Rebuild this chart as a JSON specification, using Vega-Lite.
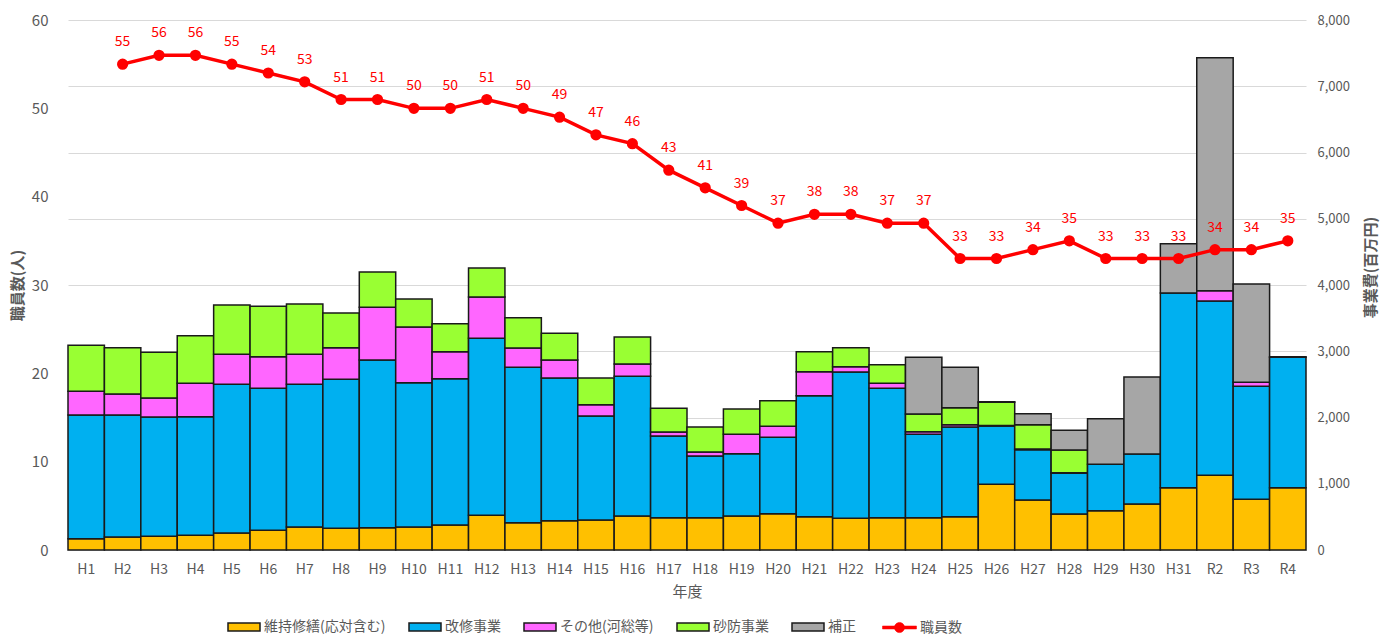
{
  "$schema": "https://vega.github.io/schema/vega-lite/v6.json",
  "width": 1238,
  "height": 530,
  "autosize": {"type": "none"},
  "padding": {"left": 68, "top": 20, "right": 79, "bottom": 85},
  "background": "white",
  "config": {"font": "Noto Sans CJK JP", "view": {"stroke": null}},
  "datasets": {
    "bars": [
      {"y":"H1","c":"維持修繕(応対含む)","o":1,"v":171},{"y":"H1","c":"改修事業","o":2,"v":1867},{"y":"H1","c":"その他(河総等)","o":3,"v":358},{"y":"H1","c":"砂防事業","o":4,"v":694},
      {"y":"H2","c":"維持修繕(応対含む)","o":1,"v":196},{"y":"H2","c":"改修事業","o":2,"v":1842},{"y":"H2","c":"その他(河総等)","o":3,"v":317},{"y":"H2","c":"砂防事業","o":4,"v":699},
      {"y":"H3","c":"維持修繕(応対含む)","o":1,"v":206},{"y":"H3","c":"改修事業","o":2,"v":1802},{"y":"H3","c":"その他(河総等)","o":3,"v":286},{"y":"H3","c":"砂防事業","o":4,"v":690},
      {"y":"H4","c":"維持修繕(応対含む)","o":1,"v":221},{"y":"H4","c":"改修事業","o":2,"v":1791},{"y":"H4","c":"その他(河総等)","o":3,"v":504},{"y":"H4","c":"砂防事業","o":4,"v":719},
      {"y":"H5","c":"維持修繕(応対含む)","o":1,"v":257},{"y":"H5","c":"改修事業","o":2,"v":2244},{"y":"H5","c":"その他(河総等)","o":3,"v":453},{"y":"H5","c":"砂防事業","o":4,"v":744},
      {"y":"H6","c":"維持修繕(応対含む)","o":1,"v":297},{"y":"H6","c":"改修事業","o":2,"v":2143},{"y":"H6","c":"その他(河総等)","o":3,"v":478},{"y":"H6","c":"砂防事業","o":4,"v":760},
      {"y":"H7","c":"維持修繕(応対含む)","o":1,"v":347},{"y":"H7","c":"改修事業","o":2,"v":2154},{"y":"H7","c":"その他(河総等)","o":3,"v":453},{"y":"H7","c":"砂防事業","o":4,"v":759},
      {"y":"H8","c":"維持修繕(応対含む)","o":1,"v":327},{"y":"H8","c":"改修事業","o":2,"v":2249},{"y":"H8","c":"その他(河総等)","o":3,"v":478},{"y":"H8","c":"砂防事業","o":4,"v":523},
      {"y":"H9","c":"維持修繕(応対含む)","o":1,"v":337},{"y":"H9","c":"改修事業","o":2,"v":2531},{"y":"H9","c":"その他(河総等)","o":3,"v":795},{"y":"H9","c":"砂防事業","o":4,"v":533},
      {"y":"H10","c":"維持修繕(応対含む)","o":1,"v":347},{"y":"H10","c":"改修事業","o":2,"v":2179},{"y":"H10","c":"その他(河総等)","o":3,"v":840},{"y":"H10","c":"砂防事業","o":4,"v":423},
      {"y":"H11","c":"維持修繕(応対含む)","o":1,"v":377},{"y":"H11","c":"改修事業","o":2,"v":2209},{"y":"H11","c":"その他(河総等)","o":3,"v":408},{"y":"H11","c":"砂防事業","o":4,"v":422},
      {"y":"H12","c":"維持修繕(応対含む)","o":1,"v":524},{"y":"H12","c":"改修事業","o":2,"v":2671},{"y":"H12","c":"その他(河総等)","o":3,"v":624},{"y":"H12","c":"砂防事業","o":4,"v":438},
      {"y":"H13","c":"維持修繕(応対含む)","o":1,"v":413},{"y":"H13","c":"改修事業","o":2,"v":2344},{"y":"H13","c":"その他(河総等)","o":3,"v":292},{"y":"H13","c":"砂防事業","o":4,"v":458},
      {"y":"H14","c":"維持修繕(応対含む)","o":1,"v":443},{"y":"H14","c":"改修事業","o":2,"v":2153},{"y":"H14","c":"その他(河総等)","o":3,"v":272},{"y":"H14","c":"砂防事業","o":4,"v":402},
      {"y":"H15","c":"維持修繕(応対含む)","o":1,"v":453},{"y":"H15","c":"改修事業","o":2,"v":1570},{"y":"H15","c":"その他(河総等)","o":3,"v":171},{"y":"H15","c":"砂防事業","o":4,"v":402},
      {"y":"H16","c":"維持修繕(応対含む)","o":1,"v":513},{"y":"H16","c":"改修事業","o":2,"v":2108},{"y":"H16","c":"その他(河総等)","o":3,"v":187},{"y":"H16","c":"砂防事業","o":4,"v":407},
      {"y":"H17","c":"維持修繕(応対含む)","o":1,"v":488},{"y":"H17","c":"改修事業","o":2,"v":1233},{"y":"H17","c":"その他(河総等)","o":3,"v":60},{"y":"H17","c":"砂防事業","o":4,"v":357},
      {"y":"H18","c":"維持修繕(応対含む)","o":1,"v":488},{"y":"H18","c":"改修事業","o":2,"v":931},{"y":"H18","c":"その他(河総等)","o":3,"v":60},{"y":"H18","c":"砂防事業","o":4,"v":378},
      {"y":"H19","c":"維持修繕(応対含む)","o":1,"v":513},{"y":"H19","c":"改修事業","o":2,"v":941},{"y":"H19","c":"その他(河総等)","o":3,"v":292},{"y":"H19","c":"砂防事業","o":4,"v":382},
      {"y":"H20","c":"維持修繕(応対含む)","o":1,"v":548},{"y":"H20","c":"改修事業","o":2,"v":1153},{"y":"H20","c":"その他(河総等)","o":3,"v":166},{"y":"H20","c":"砂防事業","o":4,"v":387},
      {"y":"H21","c":"維持修繕(応対含む)","o":1,"v":503},{"y":"H21","c":"改修事業","o":2,"v":1826},{"y":"H21","c":"その他(河総等)","o":3,"v":363},{"y":"H21","c":"砂防事業","o":4,"v":302},
      {"y":"H22","c":"維持修繕(応対含む)","o":1,"v":478},{"y":"H22","c":"改修事業","o":2,"v":2209},{"y":"H22","c":"その他(河総等)","o":3,"v":80},{"y":"H22","c":"砂防事業","o":4,"v":287},
      {"y":"H23","c":"維持修繕(応対含む)","o":1,"v":488},{"y":"H23","c":"改修事業","o":2,"v":1952},{"y":"H23","c":"その他(河総等)","o":3,"v":76},{"y":"H23","c":"砂防事業","o":4,"v":281},
      {"y":"H24","c":"維持修繕(応対含む)","o":1,"v":488},{"y":"H24","c":"改修事業","o":2,"v":1258},{"y":"H24","c":"その他(河総等)","o":3,"v":40},{"y":"H24","c":"砂防事業","o":4,"v":267},{"y":"H24","c":"補正","o":5,"v":855},
      {"y":"H25","c":"維持修繕(応対含む)","o":1,"v":503},{"y":"H25","c":"改修事業","o":2,"v":1354},{"y":"H25","c":"その他(河総等)","o":3,"v":34},{"y":"H25","c":"砂防事業","o":4,"v":257},{"y":"H25","c":"補正","o":5,"v":609},
      {"y":"H26","c":"維持修繕(応対含む)","o":1,"v":991},{"y":"H26","c":"改修事業","o":2,"v":881},{"y":"H26","c":"その他(河総等)","o":3,"v":8},{"y":"H26","c":"砂防事業","o":4,"v":349},{"y":"H26","c":"補正","o":5,"v":10},
      {"y":"H27","c":"維持修繕(応対含む)","o":1,"v":755},{"y":"H27","c":"改修事業","o":2,"v":759},{"y":"H27","c":"その他(河総等)","o":3,"v":11},{"y":"H27","c":"砂防事業","o":4,"v":366},{"y":"H27","c":"補正","o":5,"v":167},
      {"y":"H28","c":"維持修繕(応対含む)","o":1,"v":543},{"y":"H28","c":"改修事業","o":2,"v":614},{"y":"H28","c":"その他(河総等)","o":3,"v":8},{"y":"H28","c":"砂防事業","o":4,"v":344},{"y":"H28","c":"補正","o":5,"v":298},
      {"y":"H29","c":"維持修繕(応対含む)","o":1,"v":593},{"y":"H29","c":"改修事業","o":2,"v":700},{"y":"H29","c":"補正","o":5,"v":689},
      {"y":"H30","c":"維持修繕(応対含む)","o":1,"v":694},{"y":"H30","c":"改修事業","o":2,"v":755},{"y":"H30","c":"補正","o":5,"v":1162},
      {"y":"H31","c":"維持修繕(応対含む)","o":1,"v":940},{"y":"H31","c":"改修事業","o":2,"v":2939},{"y":"H31","c":"補正","o":5,"v":744},
      {"y":"R2","c":"維持修繕(応対含む)","o":1,"v":1127},{"y":"R2","c":"改修事業","o":2,"v":2631},{"y":"R2","c":"その他(河総等)","o":3,"v":156},{"y":"R2","c":"補正","o":5,"v":3517},
      {"y":"R3","c":"維持修繕(応対含む)","o":1,"v":765},{"y":"R3","c":"改修事業","o":2,"v":1706},{"y":"R3","c":"その他(河総等)","o":3,"v":60},{"y":"R3","c":"補正","o":5,"v":1484},
      {"y":"R4","c":"維持修繕(応対含む)","o":1,"v":940},{"y":"R4","c":"改修事業","o":2,"v":1968},{"y":"R4","c":"その他(河総等)","o":3,"v":10}
    ],
    "staff": [
      {"y":"H2","n":55},{"y":"H3","n":56},{"y":"H4","n":56},{"y":"H5","n":55},{"y":"H6","n":54},{"y":"H7","n":53},{"y":"H8","n":51},{"y":"H9","n":51},{"y":"H10","n":50},{"y":"H11","n":50},{"y":"H12","n":51},{"y":"H13","n":50},{"y":"H14","n":49},{"y":"H15","n":47},{"y":"H16","n":46},{"y":"H17","n":43},{"y":"H18","n":41},{"y":"H19","n":39},{"y":"H20","n":37},{"y":"H21","n":38},{"y":"H22","n":38},{"y":"H23","n":37},{"y":"H24","n":37},{"y":"H25","n":33},{"y":"H26","n":33},{"y":"H27","n":34},{"y":"H28","n":35},{"y":"H29","n":33},{"y":"H30","n":33},{"y":"H31","n":33},{"y":"R2","n":34},{"y":"R3","n":34},{"y":"R4","n":35}
    ]
  },
  "layer": [
    {
      "data": {"name": "bars"},
      "mark": {"type": "bar", "stroke": "#1a1a1a", "strokeWidth": 1.5},
      "encoding": {
        "x": {
          "field": "y", "type": "nominal", "sort": null,
          "scale": {"domain": ["H1","H2","H3","H4","H5","H6","H7","H8","H9","H10","H11","H12","H13","H14","H15","H16","H17","H18","H19","H20","H21","H22","H23","H24","H25","H26","H27","H28","H29","H30","H31","R2","R3","R4"], "paddingInner": 0, "paddingOuter": 0},
          "axis": {"title": "年度", "labelAngle": 0, "ticks": false, "domainColor": "#d9d9d9", "domainWidth": 1, "labelColor": "#595959", "labelFontSize": 14, "labelPadding": 12, "titleColor": "#595959", "titleFontSize": 15, "titleFontWeight": "normal", "titlePadding": 8}
        },
        "y": {
          "field": "v", "type": "quantitative", "stack": "zero",
          "scale": {"domain": [0, 8000], "nice": false},
          "axis": {"orient": "right", "title": "事業費(百万円)", "titleAngle": 270, "titleY": 247, "format": ",.0f", "values": [0,1000,2000,3000,4000,5000,6000,7000,8000], "grid": true, "gridColor": "#d9d9d9", "gridWidth": 1, "domain": false, "ticks": false, "labelColor": "#595959", "labelFontSize": 13, "labelPadding": 11, "titleColor": "#595959", "titleFontSize": 15, "titleFontWeight": "bold", "titlePadding": 29}
        },
        "color": {
          "field": "c", "type": "nominal",
          "scale": {"domain": ["維持修繕(応対含む)","改修事業","その他(河総等)","砂防事業","補正"], "range": ["#ffc000","#00b0f0","#ff66ff","#99ff33","#a6a6a6"]},
          "legend": {"orient": "none", "legendX": 159, "legendY": 590, "direction": "horizontal", "title": null, "symbolType": "M-1,-0.25H1V0.25H-1Z", "symbolSize": 1024, "symbolStrokeColor": "#1a1a1a", "symbolStrokeWidth": 1.5, "symbolOpacity": 1, "labelFontSize": 14, "labelColor": "#595959", "labelOffset": 3, "columnPadding": 20, "labelLimit": 300}
        },
        "order": {"field": "o", "type": "quantitative"}
      }
    },
    {
      "data": {"name": "staff"},
      "encoding": {
        "x": {"field": "y", "type": "nominal", "sort": null},
        "y": {"field": "n", "type": "quantitative", "scale": {"domain": [0, 60], "nice": false}}
      },
      "layer": [
        {
          "mark": {"type": "line", "strokeWidth": 3.5, "point": {"filled": true, "size": 85, "color": "#ff0000"}},
          "encoding": {
            "y": {"field": "n", "type": "quantitative", "scale": {"domain": [0, 60], "nice": false},
              "axis": {"orient": "left", "values": [0,10,20,30,40,50,60], "grid": false, "domain": false, "ticks": false, "labelPadding": 20, "labelFontSize": 15, "labelColor": "#595959", "title": "職員数(人)", "titleFontWeight": "bold", "titleColor": "#595959", "titleFontSize": 15, "titlePadding": 6}},
            "stroke": {"datum": "職員数", "type": "nominal", "scale": {"range": ["#ff0000"]},
              "legend": {"orient": "none", "legendX": 814, "legendY": 590, "title": null, "symbolType": "M-1,-0.09H-0.28V0.09H-1Z M0.28,-0.09H1V0.09H0.28Z M-0.3,0A0.3,0.3 0 1,1 0.3,0A0.3,0.3 0 1,1 -0.3,0Z", "symbolSize": 1156, "symbolFillColor": "#ff0000", "symbolStrokeColor": "#ff0000", "symbolStrokeWidth": 0.5, "labelFontSize": 14, "labelColor": "#595959", "labelOffset": 3,
                "encode": {"symbols": {"update": {"fill": {"value": "#ff0000"}, "stroke": {"value": "#ff0000"}, "strokeWidth": {"value": 0.5}}}}}}
          }
        },
        {
          "mark": {"type": "text", "color": "#ff0000", "fontSize": 14, "baseline": "middle", "dy": -22},
          "encoding": {
            "text": {"field": "n", "type": "quantitative"}
          }
        }
      ]
    }
  ],
  "resolve": {"scale": {"y": "independent"}}
}
